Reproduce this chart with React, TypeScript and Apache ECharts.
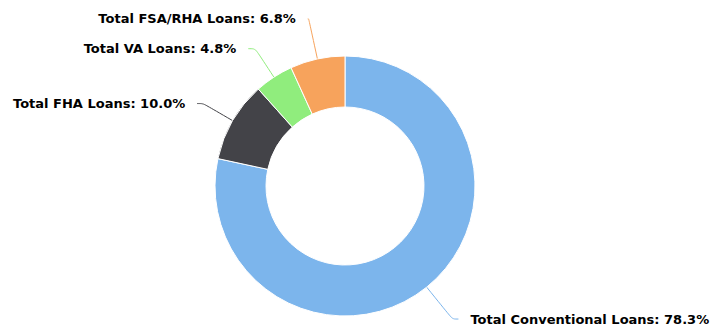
import React, { useEffect, useRef } from "react";
import * as echarts from "echarts";

const categories = [
  "Total Conventional Loans",
  "Total FHA Loans",
  "Total VA Loans",
  "Total FSA/RHA Loans",
];
const values = [78.3, 10.0, 4.8, 6.8];
const colors = ["#7cb5ec", "#434348", "#90ed7d", "#f7a35c"];
const lineLength = [41, 34, 34, 41];
const lineLength2 = [6, 6, 7, 1];

export default function App() {
  const ref = useRef<HTMLDivElement>(null);
  useEffect(() => {
    const chart = echarts.init(ref.current!, null, { renderer: "svg" });
    chart.setOption({
      animation: false,
      backgroundColor: "#ffffff",
      series: [
        {
          type: "pie",
          center: [345, 186],
          radius: [79, 130],
          startAngle: 90,
          clockwise: true,
          avoidLabelOverlap: false,
          itemStyle: { borderColor: "#ffffff", borderWidth: 1 },
          label: {
            show: true,
            position: "outside",
            formatter: (p: any) => `${p.name}: ${p.value.toFixed(1)}%`,
            fontFamily: "DejaVu Sans",
            fontWeight: "bold",
            fontSize: 13,
            color: "#000000",
            textBorderColor: "#ffffff",
            textBorderWidth: 2,
            distanceToLabelLine: 12,
          },
          labelLine: {
            show: true,
            smooth: 0.3,
            lineStyle: { width: 1 },
          },
          emphasis: { disabled: true },
          data: categories.map((name, i) => ({
            name,
            value: values[i],
            itemStyle: { color: colors[i] },
            labelLine: { length: lineLength[i], length2: lineLength2[i] },
          })),
        },
      ],
    });
    return () => chart.dispose();
  }, []);
  return (
    <div
      ref={ref}
      style={{ position: "fixed", left: 0, top: 0, width: 715, height: 327 }}
    />
  );
}
